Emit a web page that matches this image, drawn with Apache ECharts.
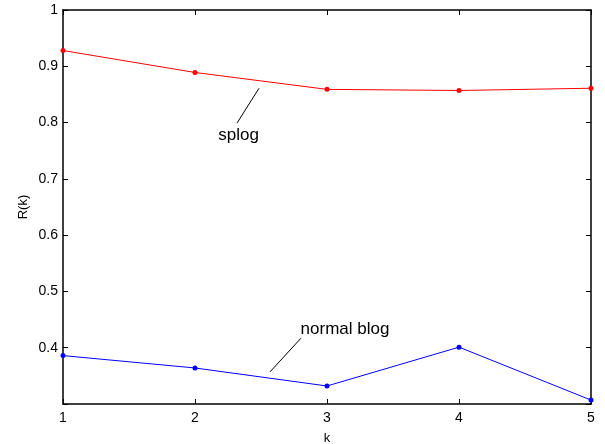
<!DOCTYPE html>
<html>
<head>
<meta charset="utf-8">
<script src="https://cdn.jsdelivr.net/npm/echarts@6/dist/echarts.min.js"></script>
<style>
  html, body { margin: 0; padding: 0; background: #fff; }
  #chart1 { width: 605px; height: 444px; }
</style>
</head>
<body>
<div id="chart1"></div>
<script>
var dom = document.getElementById("chart1");
var myChart = echarts.init(dom);

// data
var kValues = [1, 2, 3, 4, 5];
var splog = [0.928, 0.889, 0.859, 0.857, 0.861];
var normalBlog = [0.386, 0.364, 0.332, 0.401, 0.307];

// annotation anchors in data units: [line start, line end, text]
var splogNote = [[2.485, 0.861], [2.318, 0.799], [2.33, 0.777]];
var normalNote = [[2.803, 0.417], [2.568, 0.357], [2.80, 0.433]];

var FONT = 'Liberation Sans';

function pair(xs, ys) {
    return xs.map(function (x, i) { return [x, ys[i]]; });
}

var tickStyle = { show: true, inside: true, length: 5, lineStyle: { color: '#000', width: 1 } };
var lineAxis = { show: true, onZero: false, lineStyle: { color: '#000', width: 1.5 } };

option = {
    animation: false,
    grid: { left: 63, top: 10, right: 14, bottom: 40, outerBoundsMode: 'none', containLabel: false },
    xAxis: [{
        type: 'value', min: 1, max: 5, interval: 1,
        name: 'k', nameLocation: 'middle', nameGap: 28, nameMoveOverlap: false,
        nameTextStyle: { fontFamily: FONT, fontSize: 13, color: '#000' },
        axisLine: lineAxis, axisTick: tickStyle,
        axisLabel: { fontFamily: FONT, fontSize: 14, color: '#000', margin: 7 },
        splitLine: { show: false }
    }, {
        type: 'value', min: 1, max: 5, interval: 1, position: 'top',
        axisLine: lineAxis, axisTick: tickStyle,
        axisLabel: { show: false }, splitLine: { show: false }
    }],
    yAxis: [{
        type: 'value', min: 0.3, max: 1, interval: 0.1,
        name: 'R(k)', nameLocation: 'middle', nameGap: 33, nameMoveOverlap: false,
        nameTextStyle: { fontFamily: FONT, fontSize: 13, color: '#000' },
        axisLine: lineAxis, axisTick: tickStyle,
        axisLabel: {
            fontFamily: FONT, fontSize: 14, color: '#000', margin: 5,
            formatter: function (v) {
                if (Math.abs(v - 0.3) < 1e-6) return '';
                return +v.toFixed(1) + '';
            }
        },
        splitLine: { show: false }
    }, {
        type: 'value', min: 0.3, max: 1, interval: 0.1, position: 'right',
        axisLine: lineAxis, axisTick: tickStyle,
        axisLabel: { show: false }, splitLine: { show: false }
    }],
    series: [{
        name: 'splog', type: 'line',
        data: pair(kValues, splog),
        symbol: 'circle', symbolSize: 5, showAllSymbol: true,
        lineStyle: { color: '#ff0000', width: 1 },
        itemStyle: { color: '#ff0000' }
    }, {
        name: 'normal blog', type: 'line',
        data: pair(kValues, normalBlog),
        symbol: 'circle', symbolSize: 5, showAllSymbol: true,
        lineStyle: { color: '#0000ff', width: 1 },
        itemStyle: { color: '#0000ff' }
    }]
};

myChart.setOption(option, true);

function note(pts, text, align) {
    var a = myChart.convertToPixel({ gridIndex: 0 }, pts[0]);
    var b = myChart.convertToPixel({ gridIndex: 0 }, pts[1]);
    var t = myChart.convertToPixel({ gridIndex: 0 }, pts[2]);
    return [{
        type: 'line',
        shape: { x1: a[0], y1: a[1], x2: b[0], y2: b[1] },
        style: { stroke: '#000', lineWidth: 1 }
    }, {
        type: 'text', x: t[0], y: t[1],
        style: {
            text: text, fill: '#000', font: '17px ' + FONT,
            align: align, verticalAlign: 'middle'
        }
    }];
}

myChart.setOption({
    graphic: note(splogNote, 'splog', 'center').concat(note(normalNote, 'normal blog', 'left'))
});
</script>
</body>
</html>
